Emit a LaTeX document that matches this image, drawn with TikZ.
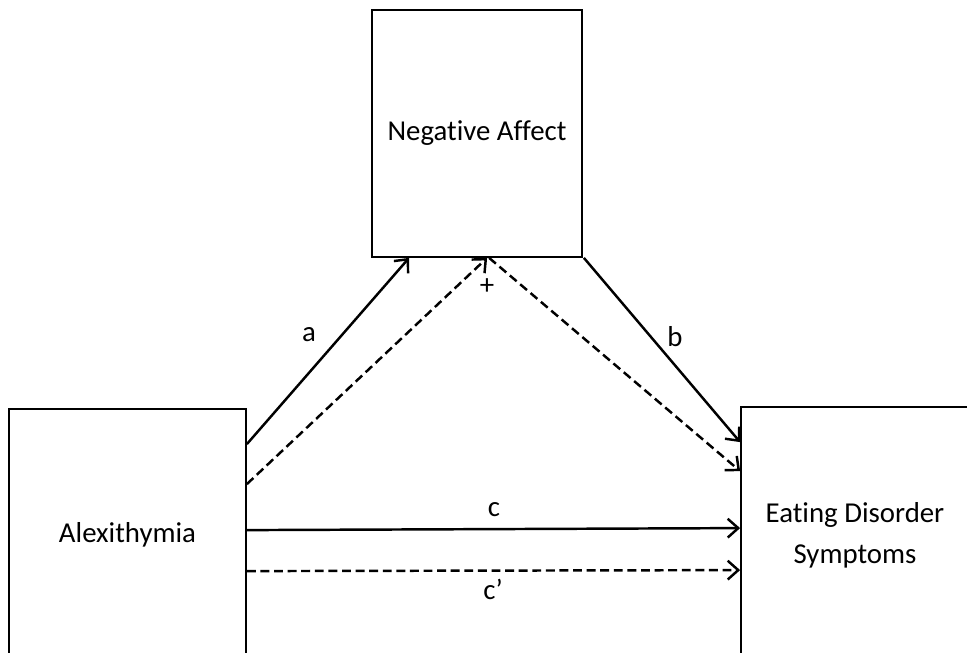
\documentclass[tikz,border=0pt]{standalone}
\usepackage{fontspec}
\setmainfont{Carlito}[Ligatures=NoCommon]
\usetikzlibrary{positioning, calc, arrows.meta}

\tikzset{
    box/.style={draw, line width=0.75pt, align=center, font=\fontsize{12.3}{17.5}\selectfont},
    link/.style={->, line width=1.05pt},
    dashlink/.style={link, dash pattern=on 3.8pt off 2pt},
    lbl/.style={font=\fontsize{12.3}{14}\selectfont}
}

\begin{document}
\begin{tikzpicture}[x=0.015cm, y=0.015cm, >={Straight Barb[length=4.5pt, width=8pt]}]
    % Canvas
    \useasboundingbox (0,0) rectangle (967,653);
    \clip (0,0) rectangle (967,653);
    \fill[white] (0,0) rectangle (967,653);

    % Boxes
    \node[box, minimum width=3.15cm, minimum height=3.705cm] (na) at (477,519.5) {Negative Affect};
    \node[box, minimum width=3.555cm, minimum height=3.765cm] (alex) at (127.5,118.5) {Alexithymia};
    \node[box, minimum width=3.42cm, minimum height=3.84cm] (eds) at (855,118) {Eating Disorder\\Symptoms};

    % Paths a and b
    \draw[link] ($(alex.north east)+(0,-36)$) -- ($(na.south west)+(38,0)$);
    \draw[link] ($(na.south east)+(1,0)$) -- ($(eds.north west)+(0,-36)$);

    % Indirect path
    \draw[dashlink] ($(alex.north east)+(0,-76)$) -- ($(na.south west)+(116,0)$);
    \draw[dashlink] ($(na.south west)+(118,0)$) -- ($(eds.north west)+(0,-65)$);

    % Direct paths c and c'
    \draw[link] ($(alex.north east)+(0,-122)$) -- ($(eds.north west)+(0,-122)$);
    \draw[dashlink] ($(alex.north east)+(0,-163)$) -- ($(eds.north west)+(0,-164)$);

    % Labels
    \node[lbl] (la) at (309,318) {a};
    \node[lbl] (lb) at (675,316) {b};
    \node[lbl] (lplus) at (487,366) {+};
    \node[lbl] (lc) at (494,143) {c};
    \node[lbl] (lcp) at (493,64) {c’};
\end{tikzpicture}
\end{document}
